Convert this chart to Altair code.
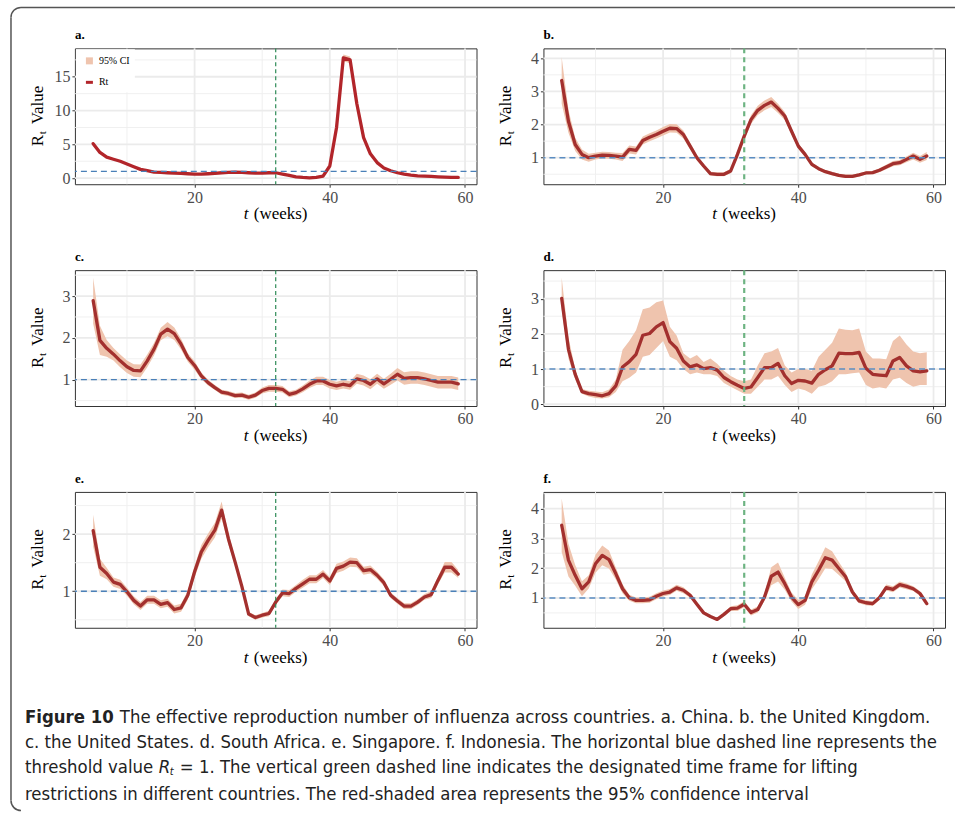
import altair as alt
import pandas as pd

weeks = list(range(5, 60))
major_x = [20, 40, 60]
minor_x = [10, 30, 50]
lift_week = [32]
threshold = [1]

# ---- a. China
rt_a = [5.1, 3.8, 3.1, 2.8, 2.5, 2.1, 1.7, 1.3, 1.1, 0.9,
        0.85, 0.8, 0.75, 0.7, 0.65, 0.6, 0.6, 0.65, 0.7, 0.8,
        0.85, 0.9, 0.85, 0.8, 0.75, 0.75, 0.8, 0.8, 0.6, 0.4,
        0.2, 0.1, 0.05, 0.1, 0.3, 1.8, 7.5, 17.8, 17.5, 11.0,
        6.0, 3.6, 2.3, 1.5, 1.1, 0.8, 0.6, 0.45, 0.35, 0.3,
        0.25, 0.2, 0.15, 0.1, 0.1]
hw_a = [0.3, 0.2, 0.15, 0.12, 0.1, 0.1, 0.08, 0.07, 0.06, 0.05,
        0.05, 0.05, 0.05, 0.05, 0.05, 0.05, 0.05, 0.05, 0.05, 0.05,
        0.05, 0.05, 0.05, 0.05, 0.05, 0.05, 0.05, 0.05, 0.05, 0.05,
        0.05, 0.05, 0.05, 0.05, 0.05, 0.2, 0.4, 0.5, 0.5, 0.4,
        0.25, 0.15, 0.1, 0.08, 0.06, 0.05, 0.05, 0.05, 0.05, 0.05,
        0.05, 0.05, 0.05, 0.05, 0.05]

# ---- b. United Kingdom
rt_b = [3.33, 2.1, 1.4, 1.1, 1.0, 1.05, 1.08, 1.07, 1.05, 1.02,
        1.25, 1.22, 1.52, 1.62, 1.70, 1.80, 1.89, 1.88, 1.70, 1.35,
        1.0, 0.75, 0.52, 0.50, 0.50, 0.6, 1.1, 1.65, 2.15, 2.43,
        2.58, 2.68, 2.49, 2.26, 1.8, 1.35, 1.1, 0.8, 0.67, 0.58,
        0.52, 0.47, 0.44, 0.44, 0.48, 0.54, 0.55, 0.62, 0.72, 0.82,
        0.85, 0.95, 1.05, 0.95, 1.05]
hw_b = [0.7, 0.35, 0.2, 0.15, 0.12, 0.1, 0.1, 0.1, 0.1, 0.12,
        0.12, 0.12, 0.12, 0.12, 0.12, 0.13, 0.13, 0.13, 0.12, 0.1,
        0.08, 0.07, 0.06, 0.06, 0.06, 0.07, 0.1, 0.12, 0.13, 0.14,
        0.15, 0.15, 0.14, 0.12, 0.1, 0.08, 0.07, 0.06, 0.05, 0.05,
        0.05, 0.05, 0.05, 0.05, 0.05, 0.05, 0.05, 0.06, 0.07, 0.08,
        0.08, 0.09, 0.1, 0.1, 0.12]

# ---- c. United States
rt_c = [2.89, 1.94, 1.75, 1.61, 1.45, 1.31, 1.22, 1.21, 1.45, 1.73,
        2.09, 2.21, 2.10, 1.85, 1.53, 1.34, 1.09, 0.93, 0.81, 0.70,
        0.67, 0.62, 0.63, 0.58, 0.63, 0.74, 0.79, 0.79, 0.77, 0.65,
        0.69, 0.78, 0.89, 0.97, 0.97, 0.89, 0.85, 0.89, 0.86, 1.02,
        0.98, 0.89, 1.02, 0.90, 1.01, 1.13, 1.03, 1.05, 1.05, 1.02,
        0.98, 0.94, 0.94, 0.94, 0.90]
hw_c = [0.55, 0.35, 0.2, 0.15, 0.15, 0.15, 0.15, 0.15, 0.15, 0.15,
        0.15, 0.17, 0.15, 0.13, 0.1, 0.1, 0.08, 0.07, 0.06, 0.06,
        0.06, 0.06, 0.06, 0.06, 0.06, 0.07, 0.08, 0.08, 0.08, 0.07,
        0.07, 0.08, 0.09, 0.1, 0.1, 0.1, 0.1, 0.1, 0.1, 0.12,
        0.12, 0.12, 0.12, 0.12, 0.13, 0.15, 0.15, 0.15, 0.15, 0.15,
        0.15, 0.15, 0.15, 0.15, 0.15]

# ---- d. South Africa
rt_d = [3.01, 1.56, 0.85, 0.36, 0.30, 0.27, 0.24, 0.30, 0.52, 1.06,
        1.21, 1.42, 1.96, 2.01, 2.20, 2.32, 1.78, 1.59, 1.23, 1.06,
        1.12, 1.01, 1.04, 0.97, 0.76, 0.64, 0.54, 0.45, 0.49, 0.76,
        1.04, 1.04, 1.16, 0.81, 0.59, 0.68, 0.66, 0.60, 0.85, 0.98,
        1.09, 1.45, 1.44, 1.44, 1.47, 1.02, 0.85, 0.83, 0.81, 1.23,
        1.33, 1.09, 0.95, 0.92, 0.95]
lo_d = [2.7, 1.3, 0.7, 0.3, 0.22, 0.18, 0.16, 0.2, 0.35, 0.65,
        0.75, 0.9, 1.35, 1.4, 1.6, 1.8, 1.35, 1.25, 1.0, 0.85,
        0.9, 0.85, 0.85, 0.8, 0.6, 0.5, 0.4, 0.3, 0.3, 0.5,
        0.7, 0.7, 0.8, 0.55, 0.35, 0.45, 0.4, 0.3, 0.5, 0.55,
        0.65, 0.85, 0.85, 0.88, 0.9, 0.55, 0.45, 0.48, 0.45, 0.7,
        0.75, 0.6, 0.5, 0.55, 0.55]
hi_d = [3.6, 1.9, 1.0, 0.43, 0.38, 0.36, 0.34, 0.42, 0.7, 1.55,
        1.8, 2.1, 2.7, 2.75, 2.9, 2.95, 2.2, 1.95, 1.45, 1.3,
        1.4, 1.2, 1.3, 1.15, 0.95, 0.8, 0.7, 0.65, 0.7, 1.1,
        1.45, 1.5, 1.6, 1.1, 0.9, 1.0, 1.0, 0.95, 1.35, 1.55,
        1.75, 2.15, 2.12, 2.1, 2.15, 1.5, 1.3, 1.3, 1.28, 1.8,
        1.95, 1.7, 1.5, 1.45, 1.48]

# ---- e. Singapore
rt_e = [2.06, 1.42, 1.31, 1.16, 1.12, 0.99, 0.84, 0.74, 0.85, 0.85,
        0.77, 0.80, 0.68, 0.71, 0.93, 1.34, 1.69, 1.89, 2.07, 2.42,
        1.92, 1.51, 1.08, 0.60, 0.54, 0.58, 0.61, 0.81, 0.97, 0.96,
        1.05, 1.13, 1.21, 1.21, 1.30, 1.18, 1.40, 1.44, 1.51, 1.50,
        1.36, 1.38, 1.28, 1.15, 0.93, 0.83, 0.74, 0.74, 0.81, 0.90,
        0.94, 1.19, 1.42, 1.42, 1.30]
hw_e = [0.28, 0.15, 0.1, 0.08, 0.08, 0.07, 0.07, 0.07, 0.07, 0.07,
        0.07, 0.07, 0.07, 0.07, 0.08, 0.1, 0.12, 0.12, 0.13, 0.15,
        0.1, 0.07, 0.05, 0.04, 0.04, 0.04, 0.05, 0.05, 0.06, 0.06,
        0.06, 0.07, 0.07, 0.07, 0.07, 0.07, 0.08, 0.08, 0.08, 0.08,
        0.07, 0.07, 0.06, 0.06, 0.05, 0.05, 0.05, 0.05, 0.05, 0.05,
        0.06, 0.07, 0.09, 0.09, 0.07]

# ---- f. Indonesia
rt_f = [3.44, 2.27, 1.76, 1.31, 1.54, 2.15, 2.43, 2.29, 1.82, 1.31,
        1.01, 0.92, 0.92, 0.94, 1.06, 1.15, 1.20, 1.34, 1.26, 1.09,
        0.79, 0.50, 0.38, 0.28, 0.45, 0.64, 0.66, 0.79, 0.51, 0.61,
        1.03, 1.73, 1.87, 1.48, 1.03, 0.78, 0.92, 1.54, 1.93, 2.35,
        2.27, 1.99, 1.71, 1.20, 0.90, 0.84, 0.81, 1.01, 1.35, 1.29,
        1.45, 1.39, 1.31, 1.15, 0.81]
hw_f = [0.9, 0.55, 0.35, 0.25, 0.22, 0.3, 0.33, 0.3, 0.2, 0.15,
        0.1, 0.1, 0.1, 0.1, 0.1, 0.1, 0.1, 0.1, 0.1, 0.08,
        0.07, 0.06, 0.05, 0.05, 0.06, 0.08, 0.1, 0.1, 0.1, 0.1,
        0.12, 0.3, 0.32, 0.2, 0.15, 0.15, 0.15, 0.25, 0.3, 0.35,
        0.3, 0.22, 0.15, 0.1, 0.08, 0.08, 0.08, 0.08, 0.1, 0.1,
        0.1, 0.1, 0.08, 0.08, 0.08]

caption_lines = [
    "The effective reproduction number of influenza across countries. a. China. b. the United Kingdom.",
    "c. the United States. d. South Africa. e. Singapore. f. Indonesia. The horizontal blue dashed line represents the",
    "threshold value",
    "= 1. The vertical green dashed line indicates the designated time frame for lifting",
    "restrictions in different countries. The red-shaded area represents the 95% confidence interval",
]

W, H = 402, 136
SERIF = "Liberation Serif"
CAPFONT = "Liberation Sans Narrow, DejaVu Sans Condensed, Open Sans, sans-serif"
CAPSIZE = 18.4
RIBBON = "#EFC4AE"
one = pd.DataFrame({"k": [0]})


def band(rt, hw):
    lo = [r - h for r, h in zip(rt, hw)]
    hi = [r + h for r, h in zip(rt, hw)]
    return lo, hi


def panel(label, rt, lo, hi, ydom, ymajor, yminor, strong, line_color, extra=None):
    xscale = alt.Scale(domain=[2.3, 61.7], nice=False, zero=False)
    yscale = alt.Scale(domain=ydom, nice=False, zero=False)
    xaxis = alt.Axis(values=major_x, title=None, grid=False, domain=False)
    yaxis = alt.Axis(values=ymajor, title=None, grid=False, domain=False)

    def X(f):
        return alt.X(f, type="quantitative", scale=xscale, axis=xaxis)

    def Y(f):
        return alt.Y(f, type="quantitative", scale=yscale, axis=yaxis)

    df = pd.DataFrame({"week": weeks, "rt": rt, "lo": lo, "hi": hi})
    base = alt.Chart(df)

    gx_min = alt.Chart(pd.DataFrame({"v": minor_x})).mark_rule(
        color="#EEEEEE", strokeWidth=0.9).encode(x=X("v"))
    gy_min = alt.Chart(pd.DataFrame({"v": yminor})).mark_rule(
        color="#EEEEEE", strokeWidth=0.9).encode(y=Y("v"))
    gx_maj = alt.Chart(pd.DataFrame({"v": major_x})).mark_rule(
        color="#EBEBEB", strokeWidth=1.8).encode(x=X("v"))
    gy_maj = alt.Chart(pd.DataFrame({"v": ymajor})).mark_rule(
        color="#EBEBEB", strokeWidth=1.8).encode(y=Y("v"))

    area = base.mark_area(color=RIBBON, opacity=1).encode(
        x=X("week"), y=Y("lo"), y2=alt.Y2("hi"))
    line = base.mark_line(color=line_color, strokeWidth=3.3,
                          strokeJoin="round", strokeCap="round").encode(
        x=X("week"), y=Y("rt"))

    if strong:
        gcol, gw, gdash = "#6DB382", 2.2, [5, 4]
        bcol, bw, bdash = "#5B8DC2", 1.6, [6, 4]
    else:
        gcol, gw, gdash = "#2E8B57", 1.2, [4, 3]
        bcol, bw, bdash = "#4A80B8", 1.3, [6, 4]

    hline = alt.Chart(pd.DataFrame({"v": threshold})).mark_rule(
        color=bcol, strokeWidth=bw, strokeDash=bdash).encode(y=Y("v"))
    vline = alt.Chart(pd.DataFrame({"v": lift_week})).mark_rule(
        color=gcol, strokeWidth=gw, strokeDash=gdash).encode(x=X("v"))

    t = alt.Chart(one)
    texts = [
        t.mark_text(text=label, font=SERIF, fontSize=13, fontWeight="bold",
                    align="left", baseline="middle", color="black").encode(
            x=alt.value(0), y=alt.value(-13)),
        t.mark_text(text="R", font=SERIF, fontSize=17, angle=270, align="left",
                    baseline="middle", color="black").encode(
            x=alt.value(-37), y=alt.value(H / 2 + 30)),
        t.mark_text(text="t", font=SERIF, fontSize=11, angle=270, align="left",
                    baseline="middle", color="black").encode(
            x=alt.value(-32), y=alt.value(H / 2 + 18)),
        t.mark_text(text="Value", font=SERIF, fontSize=17, angle=270, align="left",
                    baseline="middle", color="black").encode(
            x=alt.value(-37), y=alt.value(H / 2 + 8)),
        t.mark_text(text="t", font=SERIF, fontSize=17, fontStyle="italic",
                    align="left", baseline="middle", color="black").encode(
            x=alt.value(W / 2 - 32), y=alt.value(H + 30)),
        t.mark_text(text="(weeks)", font=SERIF, fontSize=17,
                    align="left", baseline="middle", color="black").encode(
            x=alt.value(W / 2 - 22), y=alt.value(H + 30)),
    ]

    layers = [gx_min, gy_min, gx_maj, gy_maj, area, line, hline, vline] + texts
    if extra:
        layers += extra
    return alt.layer(*layers).properties(width=W, height=H)


t1 = alt.Chart(one)
legend_a = [
    t1.mark_rect(color="white").encode(x=alt.value(1), x2=alt.value(60),
                                       y=alt.value(1), y2=alt.value(44)),
    t1.mark_rect(color=RIBBON).encode(x=alt.value(11), x2=alt.value(18),
                                      y=alt.value(9), y2=alt.value(16)),
    t1.mark_rect(color="#B2252A").encode(x=alt.value(11), x2=alt.value(18),
                                         y=alt.value(32.5), y2=alt.value(35.5)),
    t1.mark_text(text="95% CI", font=SERIF, fontSize=10, align="left",
                 baseline="middle", color="black").encode(x=alt.value(24), y=alt.value(12.5)),
    t1.mark_text(text="Rt", font=SERIF, fontSize=10, align="left",
                 baseline="middle", color="black").encode(x=alt.value(24), y=alt.value(34)),
]
FR = "#555555"
frame = [
    t1.mark_rule(color=FR, strokeWidth=1.5).encode(
        x=alt.value(-54), x2=alt.value(881), y=alt.value(-41)),
    t1.mark_rule(color=FR, strokeWidth=1.5).encode(
        x=alt.value(-64), y=alt.value(-31), y2=alt.value(753)),
    t1.mark_arc(color=FR, radius=10.75, radius2=9.25, theta=4.71239, theta2=6.28318).encode(
        x=alt.value(-54), y=alt.value(-31)),
    t1.mark_arc(color=FR, radius=10.75, radius2=9.25, theta=3.14159, theta2=4.71239).encode(
        x=alt.value(-54), y=alt.value(753)),
]


def cap(text, x, y, **kw):
    props = dict(font=CAPFONT, fontSize=CAPSIZE, align="left", baseline="middle",
                 color="#222222")
    props.update(kw)
    return t1.mark_text(text=text, **props).encode(x=alt.value(x), y=alt.value(y))


caption = [
    cap("Figure 10", -50, 225, fontWeight="bold"),
    cap(caption_lines[0], 45, 225),
    cap(caption_lines[1], -50, 250),
    cap(caption_lines[2], -50, 275),
    cap("R", 84, 275, fontStyle="italic"),
    cap("t", 95, 280, fontStyle="italic", fontSize=11),
    cap(caption_lines[3], 105, 275),
    cap(caption_lines[4], -50, 302),
]

lo_a, hi_a = band(rt_a, hw_a)
lo_b, hi_b = band(rt_b, hw_b)
lo_c, hi_c = band(rt_c, hw_c)
lo_e, hi_e = band(rt_e, hw_e)
lo_f, hi_f = band(rt_f, hw_f)

pa = panel("a.", rt_a, lo_a, hi_a, [-0.9, 19.2], [0, 5, 10, 15], [2.5, 7.5, 12.5, 17.5],
           False, "#B2252A", legend_a + frame)
pb = panel("b.", rt_b, lo_b, hi_b, [0.2, 4.3], [1, 2, 3, 4], [0.5, 1.5, 2.5, 3.5],
           True, "#A3302E")
pc = panel("c.", rt_c, lo_c, hi_c, [0.37, 3.62], [1, 2, 3], [0.5, 1.5, 2.5, 3.5],
           False, "#A3302E")
pd_ = panel("d.", rt_d, lo_d, hi_d, [-0.05, 3.81], [0, 1, 2, 3], [0.5, 1.5, 2.5, 3.5],
            True, "#A3302E")
pe = panel("e.", rt_e, lo_e, hi_e, [0.36, 2.74], [1, 2], [0.5, 1.5, 2.5],
           False, "#A3302E", caption)
pf = panel("f.", rt_f, lo_f, hi_f, [0.0, 4.56], [1, 2, 3, 4], [0.5, 1.5, 2.5, 3.5, 4.5],
           True, "#A3302E")

chart = alt.concat(
    pa, pb, pc, pd_, pe, pf, columns=2,
    spacing={"row": 86, "column": 67}, bounds="flush",
).properties(
    padding={"left": 9, "top": 5, "right": 0, "bottom": 2},
    background="white",
).configure_view(
    stroke="#333333", strokeWidth=1
).configure_axis(
    labelFont=SERIF, labelFontSize=16, labelColor="#4D4D4D",
    tickColor="#333333", tickSize=3, tickWidth=1, labelPadding=2,
)

chart.save("out.html", embed_options={"renderer": "svg", "actions": False})
